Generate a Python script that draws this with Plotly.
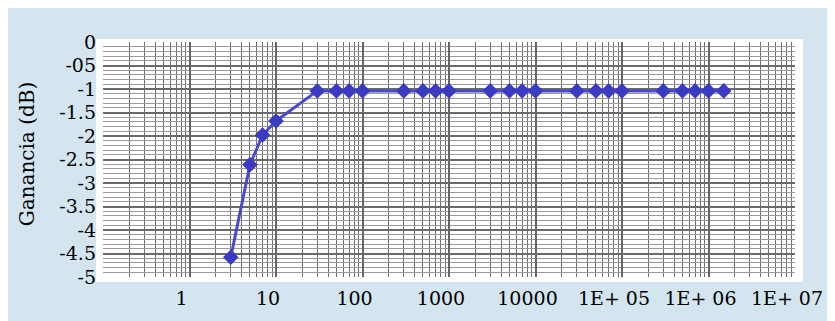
import plotly.graph_objects as go

freq = [3, 5, 7, 10, 30, 50, 70, 100, 300, 500, 700, 1000, 3000, 5000, 7000, 10000,
        30000, 50000, 70000, 100000, 300000, 500000, 700000, 1000000, 1500000]
gain = [-4.58, -2.61, -1.98, -1.68, -1.04, -1.04, -1.04, -1.04, -1.04, -1.04, -1.04, -1.04,
        -1.04, -1.04, -1.04, -1.04, -1.04, -1.04, -1.04, -1.04, -1.04, -1.04, -1.04, -1.04, -1.04]

x_tickvals = [1, 10, 100, 1000, 10000, 100000, 1000000, 10000000]
x_ticktext = ["1", "10", "100", "1000", "10000", "1E+ 05", "1E+ 06", "1E+ 07"]
y_tickvals = [0, -0.5, -1, -1.5, -2, -2.5, -3, -3.5, -4, -4.5, -5]
y_ticktext = ["0", "-05", "-1", "-1.5", "-2", "-2.5", "-3", "-3.5", "-4", "-4.5", "-5"]

# page body has an 8px margin, so the figure is drawn at (8, 8)
OFF = 8
W, H = 835 - OFF, 321 - OFF
L, R, T, B = 103 - OFF, 38, 42 - OFF, 40
pw, ph = W - L - R, H - T - B

def px(x):
    return (x - OFF - L) / pw

def py(y):
    return (H - B - (y - OFF)) / ph

font_family = "DejaVu Serif"

fig = go.Figure()
fig.add_trace(go.Scatter(
    x=freq, y=gain, mode="lines+markers",
    line=dict(color="#4a4acc", width=3),
    marker=dict(symbol="diamond", size=12, color="#3a3ac2"),
    showlegend=False,
))

fig.update_layout(
    width=W, height=H,
    margin=dict(l=L, r=R, t=T, b=B),
    paper_bgcolor="#d4e5ef",
    plot_bgcolor="#dcdcdc",
    font=dict(family=font_family, size=19, color="black"),
    shapes=[
        dict(type="rect", xref="paper", yref="paper", layer="below",
             x0=px(96), x1=px(805), y0=py(286), y1=py(39),
             fillcolor="white", line=dict(width=0)),
    ],
    annotations=[
        dict(text="Ganancia (dB)", xref="paper", yref="paper",
             x=px(27), y=py(156), textangle=-90, showarrow=False,
             font=dict(family=font_family, size=20, color="black"),
             xanchor="center", yanchor="middle"),
    ],
)

fig.update_xaxes(
    type="log", range=[-1, 7],
    tickvals=x_tickvals, ticktext=x_ticktext,
    showgrid=True, gridcolor="#666666", gridwidth=2,
    minor=dict(showgrid=True, gridcolor="#6e6e6e", gridwidth=1.2, dtick="D1"),
    zeroline=False, showline=False, ticks="",
    ticklabelshift=-8, ticklabelstandoff=8,
)
fig.update_yaxes(
    range=[-5, 0],
    tickvals=y_tickvals, ticktext=y_ticktext,
    showgrid=True, gridcolor="#6a6a6a", gridwidth=1.5,
    minor=dict(showgrid=True, gridcolor="#9a9a9a", gridwidth=1, dtick=0.1, tick0=0),
    zeroline=False, showline=False, ticks="",
    ticklabelstandoff=6,
)

fig.write_html("out.html")
